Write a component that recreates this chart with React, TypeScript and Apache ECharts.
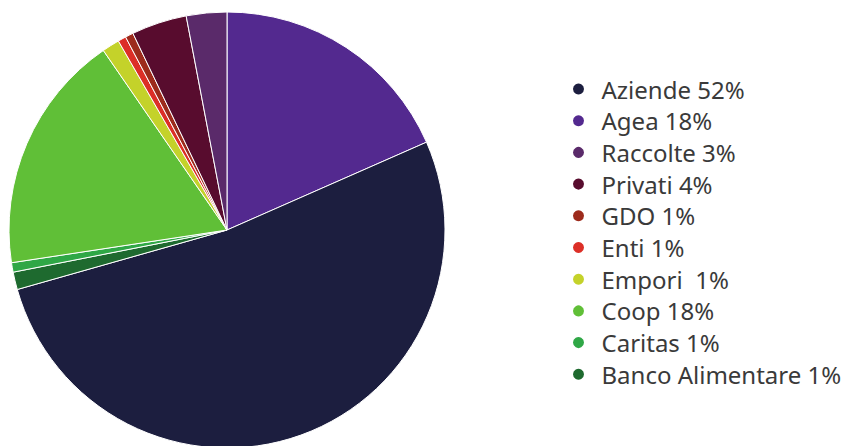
import React, { useEffect, useRef } from "react";
import * as echarts from "echarts";

// Slice order clockwise from 12 o'clock
const sliceNames = ["Agea", "Aziende", "Banco Alimentare", "Caritas", "Coop", "Empori", "Enti", "GDO", "Privati", "Raccolte"];
const sliceValues = [18.4, 52.2, 1.3, 0.7, 17.8, 1.3, 0.6, 0.6, 4.1, 3.0];
const sliceColors = ["#53298f", "#1c1e3f", "#1e6a2f", "#2fa746", "#60bf37", "#c4d22a", "#dc2f27", "#9d2b1c", "#580c2e", "#5a2a6a"];

// Legend order and labels
const legendOrder = ["Aziende", "Agea", "Raccolte", "Privati", "GDO", "Enti", "Empori", "Coop", "Caritas", "Banco Alimentare"];
const legendLabels: Record<string, string> = {
  Aziende: "Aziende 52%",
  Agea: "Agea 18%",
  Raccolte: "Raccolte 3%",
  Privati: "Privati 4%",
  GDO: "GDO 1%",
  Enti: "Enti 1%",
  Empori: "Empori  1%",
  Coop: "Coop 18%",
  Caritas: "Caritas 1%",
  "Banco Alimentare": "Banco Alimentare 1%",
};

export default function App() {
  const ref = useRef<HTMLDivElement>(null);
  useEffect(() => {
    if (!ref.current) return;
    const chart = echarts.init(ref.current, null, { renderer: "svg" });
    chart.setOption({
      animation: false,
      backgroundColor: "#ffffff",
      legend: {
        orient: "vertical",
        left: 566,
        top: 72,
        data: legendOrder,
        icon: "circle",
        itemWidth: 36,
        itemHeight: 13,
        itemGap: 7.7,
        selectedMode: false,
        formatter: (name: string) => legendLabels[name] ?? name,
        textStyle: {
          fontFamily: "Noto Sans",
          fontSize: 24,
          color: "#3a3a3a",
          lineHeight: 24,
          padding: [0, 0, 0, 0],
        },
      },
      series: [
        {
          type: "pie",
          center: [227, 230],
          radius: 218,
          startAngle: 90,
          clockwise: true,
          silent: true,
          label: { show: false },
          labelLine: { show: false },
          itemStyle: { borderColor: "#ffffff", borderWidth: 1 },
          emphasis: { disabled: true },
          data: sliceNames.map((n, i) => ({
            name: n,
            value: sliceValues[i],
            itemStyle: { color: sliceColors[i] },
          })),
        },
      ],
    });
    return () => chart.dispose();
  }, []);
  return (
    <div
      ref={ref}
      style={{ position: "fixed", left: 0, top: 0, width: 847, height: 446 }}
    />
  );
}
